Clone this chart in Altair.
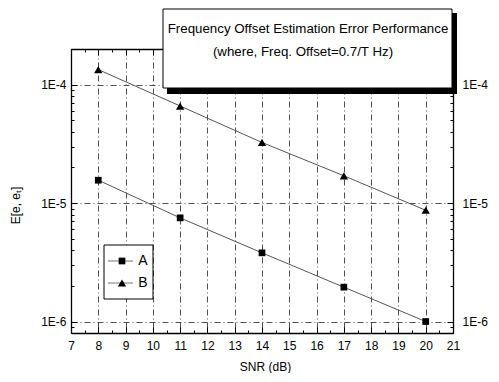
import altair as alt
import pandas as pd

# ---- data ----
snr = [8, 11, 14, 17, 20]
series_a = [1.56e-5, 7.5e-6, 3.8e-6, 1.95e-6, 1.0e-6]
series_b = [1.34e-4, 6.6e-5, 3.25e-5, 1.7e-5, 8.7e-6]
series_names = ["A", "B"]
x_major = list(range(7, 22))
x_minor = [v + 0.5 for v in range(7, 21)]
y_major = [1e-6, 1e-5, 1e-4]
y_minor = [8e-7, 9e-7] + [k * 1e-6 for k in range(2, 10)] + [k * 1e-5 for k in range(2, 10)] + [2e-4]
title_lines = ["Frequency Offset Estimation Error Performance", "(where, Freq. Offset=0.7/T Hz)"]
x_title = "SNR (dB)"
y_title = "E[e, eₜ]"

df = pd.DataFrame({
    "snr": snr * 2,
    "value": series_a + series_b,
    "series": [series_names[0]] * len(snr) + [series_names[1]] * len(snr),
})
one = pd.DataFrame({"k": [0]})

FONT = "Liberation Sans"
W, H = 382, 284
xs = alt.Scale(domain=[7, 21], nice=False, zero=False)
ys = alt.Scale(type="log", domain=[8e-7, 2e-4], nice=False)
label_expr = "'1E' + round(log(datum.value) / LN10)"
grid_dash = [6, 3, 1, 3]

common = dict(labelFont=FONT, labelFontSize=12, labelColor="black", zindex=0)

# main layer: lines, bottom/left axes with labels and grid
ax_bottom = alt.Axis(orient="bottom", values=x_major, format="d", grid=True, gridDash=grid_dash,
                     gridColor="#222", gridWidth=0.8, ticks=False, domain=True, domainColor="black",
                     domainWidth=1.6, labelPadding=7, title=x_title, titleFont=FONT, titleFontSize=12,
                     titleFontWeight="normal", titleColor="black", titleX=194, titleY=33,
                     titleAlign="center", titleBaseline="middle", labelFlush=False, **common)
ax_left = alt.Axis(orient="left", values=y_major, labelExpr=label_expr, grid=True, gridDash=grid_dash,
                   gridColor="#222", gridWidth=0.8, ticks=False, domain=True, domainColor="black",
                   domainWidth=1.3, labelPadding=5, title=y_title, titleFont=FONT, titleFontSize=12,
                   titleFontWeight="normal", titleColor="black", titleX=-56, titleY=156,
                   titleAngle=-90, titleAlign="center", titleBaseline="middle", labelFlush=False, **common)
lines = alt.Chart(df).mark_line(color="#555", strokeWidth=1).encode(
    x=alt.X("snr:Q", scale=xs, axis=ax_bottom),
    y=alt.Y("value:Q", scale=ys, axis=ax_left),
    detail="series:N",
)

# points: top/right axes
ax_top = alt.Axis(orient="top", values=x_major, labels=False, ticks=False, grid=False, domain=True,
                  domainColor="black", domainWidth=1.3, title=None, zindex=0)
ax_right = alt.Axis(orient="right", values=y_major, labelExpr=label_expr, grid=False, ticks=False,
                    domain=True, domainColor="black", domainWidth=1.3, labelPadding=9, title=None,
                    labelFlush=False, **common)
points = alt.Chart(df).mark_point(filled=True, opacity=1, color="black").encode(
    x=alt.X("snr:Q", scale=xs, axis=ax_top),
    y=alt.Y("value:Q", scale=ys, axis=ax_right),
    shape=alt.Shape("series:N", scale=alt.Scale(domain=series_names, range=["square", "triangle-up"]),
                    legend=None),
    size=alt.Size("series:N", scale=alt.Scale(domain=series_names, range=[45, 70]), legend=None),
)


def tick_layer(xorient, yorient, xvals, yvals, size):
    ax = alt.Axis(orient=xorient, values=xvals, labels=False, grid=False, domain=False, ticks=True,
                  tickSize=size, offset=-size, tickColor="black", tickWidth=1, title=None, zindex=0)
    ay = alt.Axis(orient=yorient, values=yvals, labels=False, grid=False, domain=False, ticks=True,
                  tickSize=size, offset=-size, tickColor="black", tickWidth=1, title=None, zindex=0)
    return alt.Chart(df).mark_point(opacity=0).encode(
        x=alt.X("snr:Q", scale=xs, axis=ax),
        y=alt.Y("value:Q", scale=ys, axis=ay),
    )


t1 = tick_layer("bottom", "left", x_major, y_major, 6)
t2 = tick_layer("bottom", "left", x_minor, y_minor, 3)
t3 = tick_layer("top", "right", x_major, y_major, 6)
t4 = tick_layer("top", "right", x_minor, y_minor, 3)

# title box with shadow
shadow = alt.Chart(one).mark_rect(color="black").encode(
    x=alt.value(96), x2=alt.value(386), y=alt.value(-36), y2=alt.value(45))
box = alt.Chart(one).mark_rect(fill="white", stroke="black", strokeWidth=1).encode(
    x=alt.value(92), x2=alt.value(381), y=alt.value(-40), y2=alt.value(39))
t_line1 = alt.Chart(one).mark_text(font=FONT, fontSize=13.3, color="black", align="center",
                                   baseline="middle", text=title_lines[0]).encode(
    x=alt.value(237), y=alt.value(-20))
t_line2 = alt.Chart(one).mark_text(font=FONT, fontSize=13.3, color="black", align="center",
                                   baseline="middle", text=title_lines[1]).encode(
    x=alt.value(232), y=alt.value(3))

# manual legend
leg_box = alt.Chart(one).mark_rect(fill="white", stroke="black", strokeWidth=1).encode(
    x=alt.value(33), x2=alt.value(82), y=alt.value(196), y2=alt.value(250))
leg_layers = [leg_box]
for i, (name, shape, sz) in enumerate(zip(series_names, ["square", "triangle-up"], [45, 70])):
    yy = 212 + i * 22
    leg_layers.append(alt.Chart(one).mark_rule(color="#777", strokeWidth=1).encode(
        x=alt.value(37), x2=alt.value(62), y=alt.value(yy)))
    leg_layers.append(alt.Chart(one).mark_point(shape=shape, filled=True, size=sz, color="black",
                                                opacity=1).encode(
        x=alt.value(51), y=alt.value(yy)))
    leg_layers.append(alt.Chart(one).mark_text(font=FONT, fontSize=14, color="black", align="center",
                                               baseline="middle", text=name).encode(
        x=alt.value(72), y=alt.value(yy)))

chart = alt.layer(
    lines, points, t1, t2, t3, t4, *leg_layers, shadow, box, t_line1, t_line2
).resolve_axis(x="independent", y="independent").properties(
    width=W, height=H,
    autosize=alt.AutoSizeParams(type="none"),
    padding={"left": 63, "top": 41, "right": 36, "bottom": 40},
).configure_view(stroke=None).configure(background="white")

chart.save("out.html", embed_options={"renderer": "svg", "actions": False})
